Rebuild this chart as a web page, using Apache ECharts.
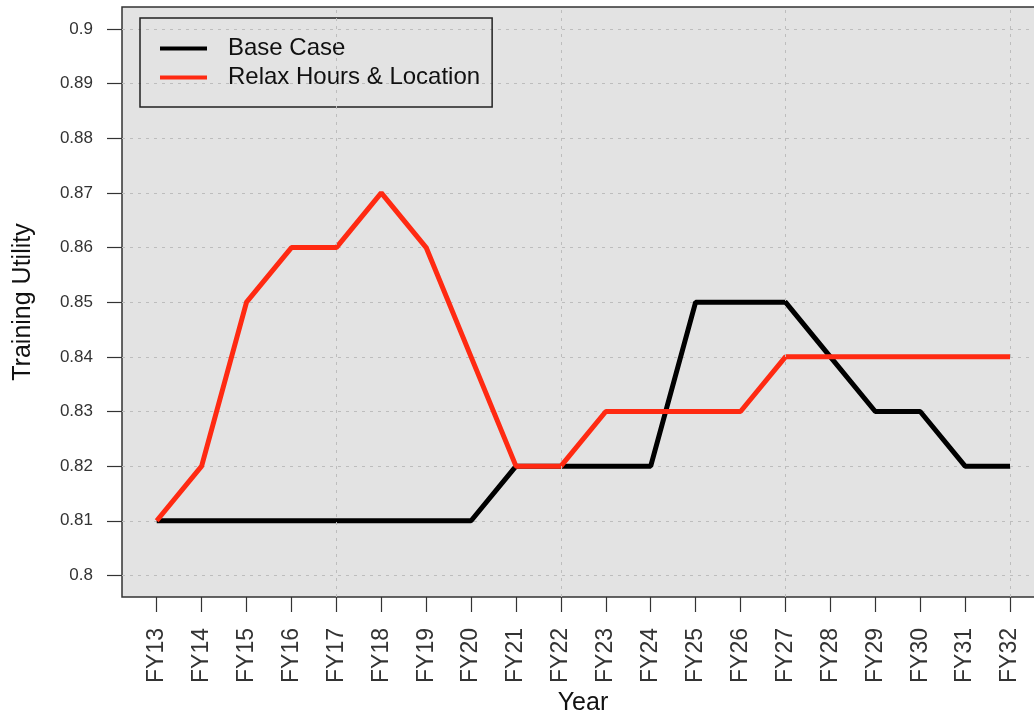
<!DOCTYPE html>
<html>
<head>
<meta charset="utf-8">
<script src="https://cdn.jsdelivr.net/npm/echarts@6/dist/echarts.min.js"></script>
<style>
  html, body { margin: 0; padding: 0; background: #fff; }
  #chart { width: 1034px; height: 710px; }
</style>
</head>
<body>
<div id="chart"></div>
<script>
var categories = ['FY13', 'FY14', 'FY15', 'FY16', 'FY17', 'FY18', 'FY19', 'FY20', 'FY21', 'FY22',
                  'FY23', 'FY24', 'FY25', 'FY26', 'FY27', 'FY28', 'FY29', 'FY30', 'FY31', 'FY32'];
var baseCase = [0.81, 0.81, 0.81, 0.81, 0.81, 0.81, 0.81, 0.81, 0.82, 0.82,
                0.82, 0.82, 0.85, 0.85, 0.85, 0.84, 0.83, 0.83, 0.82, 0.82];
var relaxHours = [0.81, 0.82, 0.85, 0.86, 0.86, 0.87, 0.86, 0.84, 0.82, 0.82,
                  0.83, 0.83, 0.83, 0.83, 0.84, 0.84, 0.84, 0.84, 0.84, 0.84];
var yTicks = [0.8, 0.81, 0.82, 0.83, 0.84, 0.85, 0.86, 0.87, 0.88, 0.89, 0.9];
// vertical grid lines only every 5th year
var gridYears = ['FY17', 'FY22', 'FY27', 'FY32'];

var chartDom = document.getElementById('chart');
var myChart = echarts.init(chartDom);

var catIdx = categories.map(function (c, i) { return i; });
var gridIdx = gridYears.map(function (c) { return categories.indexOf(c); });
var textColor = '#333';
var dotted = { color: '#bdbdbd', width: 1, type: [3, 5] };

var option = {
    animation: false,
    backgroundColor: '#fff',
    textStyle: { fontFamily: '"Liberation Sans", Arial, sans-serif' },
    grid: {
        left: 122, top: 7, width: 922, bottom: 113,
        outerBoundsMode: 'none',
        containLabel: false,
        show: true,
        backgroundColor: '#e3e3e3',
        borderColor: '#333',
        borderWidth: 1.5
    },
    legend: {
        orient: 'vertical',
        left: 140, top: 18,
        padding: [16, 12, 15, 20],
        itemGap: 0,
        itemWidth: 47,
        itemHeight: 4,
        icon: 'rect',
        borderColor: '#222',
        borderWidth: 1.5,
        textStyle: { fontSize: 24, color: '#111', lineHeight: 29, padding: [0, 0, 0, 16] },
        data: ['Base Case', 'Relax Hours & Location']
    },
    xAxis: {
        type: 'value',
        min: -0.773, max: 19.757,
        name: 'Year',
        nameLocation: 'middle',
        nameGap: 82,
        nameTextStyle: { fontSize: 25, color: '#111' },
        axisLine: { show: false, onZero: false },
        axisTick: { customValues: catIdx, length: 15, lineStyle: { color: textColor, width: 1.2 } },
        axisLabel: {
            customValues: catIdx,
            rotate: 90,
            margin: 31,
            fontSize: 23,
            color: textColor,
            formatter: function (v) { return categories[Math.round(v)]; }
        },
        splitLine: { show: false }
    },
    yAxis: {
        type: 'value',
        min: 0.79605, max: 0.90402,
        name: 'Training Utility',
        nameLocation: 'middle',
        nameGap: 86,
        nameTextStyle: { fontSize: 25, color: '#111' },
        axisLine: { show: false, onZero: false },
        axisTick: { customValues: yTicks, length: 15, lineStyle: { color: textColor, width: 1.2 } },
        axisLabel: {
            customValues: yTicks,
            margin: 29,
            fontSize: 17,
            color: textColor,
            formatter: function (v) { return String(+v.toFixed(2)); }
        },
        splitLine: { show: true, lineStyle: dotted }
    },
    series: [{
        // carries the vertical dotted grid lines, drawn under the data lines
        type: 'line',
        z: 1,
        silent: true,
        data: [],
        markLine: {
            silent: true,
            symbol: 'none',
            label: { show: false },
            lineStyle: dotted,
            data: gridIdx.map(function (i) { return { xAxis: i }; })
        }
    }, {
        name: 'Base Case',
        type: 'line',
        symbol: 'none',
        color: '#000',
        lineStyle: { width: 5, color: '#000' },
        data: catIdx.map(function (i) { return [i, baseCase[i]]; })
    }, {
        name: 'Relax Hours & Location',
        type: 'line',
        symbol: 'none',
        color: '#ff2a12',
        lineStyle: { width: 5, color: '#ff2a12' },
        data: catIdx.map(function (i) { return [i, relaxHours[i]]; })
    }]
};

myChart.setOption(option);
</script>
</body>
</html>
